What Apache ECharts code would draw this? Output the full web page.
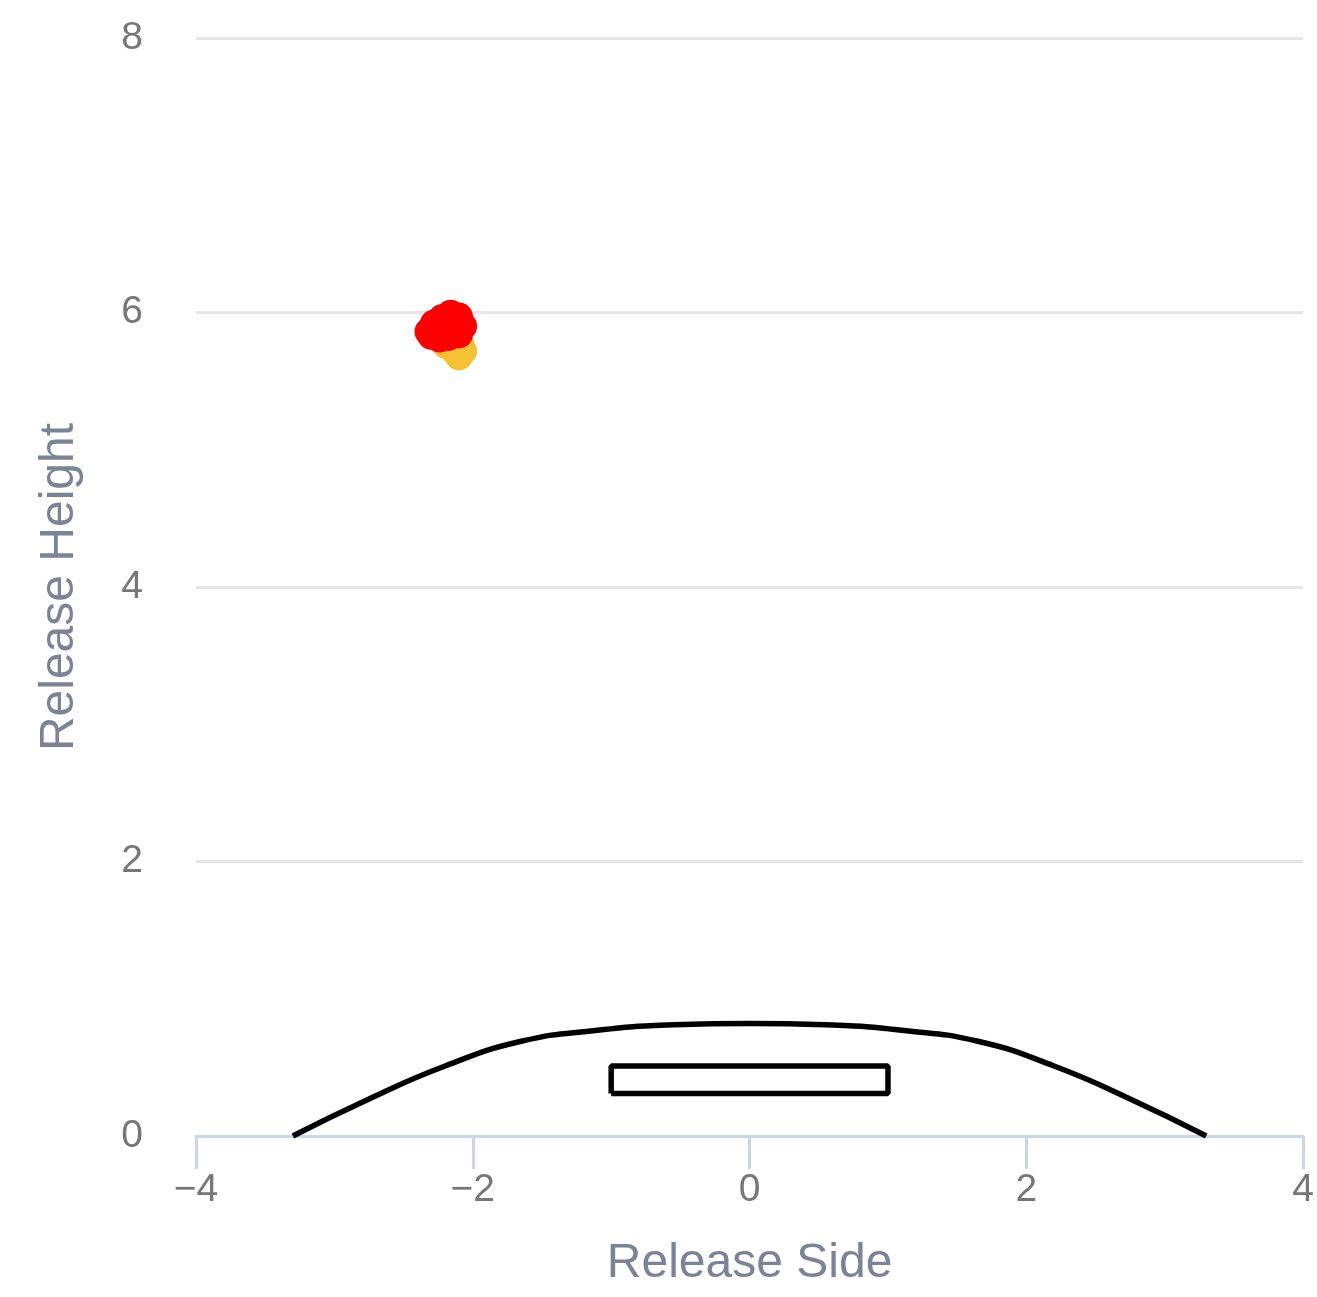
<!DOCTYPE html>
<html>
<head>
<meta charset="utf-8">
<script src="https://cdn.jsdelivr.net/npm/echarts@6/dist/echarts.min.js"></script>
<style>
html,body{margin:0;padding:0;background:#fff;}
#chart{width:1317px;height:1297px;}
</style>
</head>
<body>
<div id="chart"></div>
<script>
// Tick values
const xTicks = [-4, -2, 0, 2, 4];
const yTicks = [0, 2, 4, 6, 8];

// Pitch release points [side, height]
const yellowPoints = [
  [-2.13, 5.72], [-2.09, 5.77], [-2.19, 5.76], [-2.1, 5.68], [-2.07, 5.72]
];
const redPoints = [
  [-2.32, 5.86], [-2.28, 5.92], [-2.22, 5.96], [-2.16, 5.99], [-2.1, 5.97],
  [-2.07, 5.9], [-2.1, 5.84], [-2.18, 5.82], [-2.3, 5.83], [-2.19, 5.91],
  [-2.13, 5.93], [-2.25, 5.87], [-2.24, 5.81]
];

// Mound profile [side, height]
const moundX = [-3.3, -2.75, -2.2, -1.65, -1.1, -0.55, 0, 0.55, 1.1, 1.65, 2.2, 2.75, 3.3];
const moundY = [0, 0.27, 0.51, 0.69, 0.77, 0.81, 0.82, 0.81, 0.77, 0.69, 0.51, 0.27, 0];

// Pitching rubber outline
const rubberX = [-1, 1, 1, -1, -1];
const rubberY = [0.31, 0.31, 0.51, 0.51, 0.31];

const zip = (a, b) => a.map((v, i) => [v, b[i]]);
const minus = v => String(v).replace('-', '\u2212');

const chart = echarts.init(document.getElementById('chart'));
chart.setOption({
  animation: false,
  grid: { left: 196, right: 8, top: 38, bottom: 161 },
  xAxis: {
    type: 'value', min: xTicks[0], max: xTicks[xTicks.length - 1], interval: 2,
    name: 'Release Side', nameLocation: 'middle', nameGap: 128,
    nameTextStyle: { fontSize: 48, color: '#7b8396', fontFamily: 'Liberation Sans, Arial', verticalAlign: 'middle' },
    axisLine: { show: true, onZero: false, lineStyle: { color: '#ccd6eb', width: 3 } },
    axisTick: { show: true, length: 33, lineStyle: { color: '#ccd6eb', width: 3 } },
    axisLabel: { fontSize: 39, color: '#777777', margin: 35, fontFamily: 'Liberation Sans, Arial', formatter: minus },
    splitLine: { show: false }
  },
  yAxis: {
    type: 'value', min: yTicks[0], max: yTicks[yTicks.length - 1], interval: 2,
    name: 'Release Height', nameLocation: 'middle', nameGap: 136,
    nameTextStyle: { fontSize: 48, color: '#7b8396', fontFamily: 'Liberation Sans, Arial', verticalAlign: 'middle' },
    axisLine: { show: false },
    axisTick: { show: false },
    axisLabel: { fontSize: 39, color: '#777777', margin: 53, fontFamily: 'Liberation Sans, Arial', verticalAlign: 'middle', formatter: minus },
    splitLine: { show: true, lineStyle: { color: '#e6e6e6', width: 3 } }
  },
  series: [
    {
      type: 'line', data: zip(moundX, moundY), smooth: true, showSymbol: false,
      lineStyle: { color: '#000', width: 5.5 }, z: 1, silent: true
    },
    {
      type: 'line', data: zip(rubberX, rubberY), showSymbol: false,
      lineStyle: { color: '#000', width: 5.5 }, z: 1, silent: true
    },
    {
      type: 'scatter', data: yellowPoints, symbolSize: 28,
      itemStyle: { color: '#f3c132', opacity: 1 }, z: 2
    },
    {
      type: 'scatter', data: redPoints, symbolSize: 28,
      itemStyle: { color: '#ff0000', opacity: 1 }, z: 3
    }
  ]
});
</script>
</body>
</html>
